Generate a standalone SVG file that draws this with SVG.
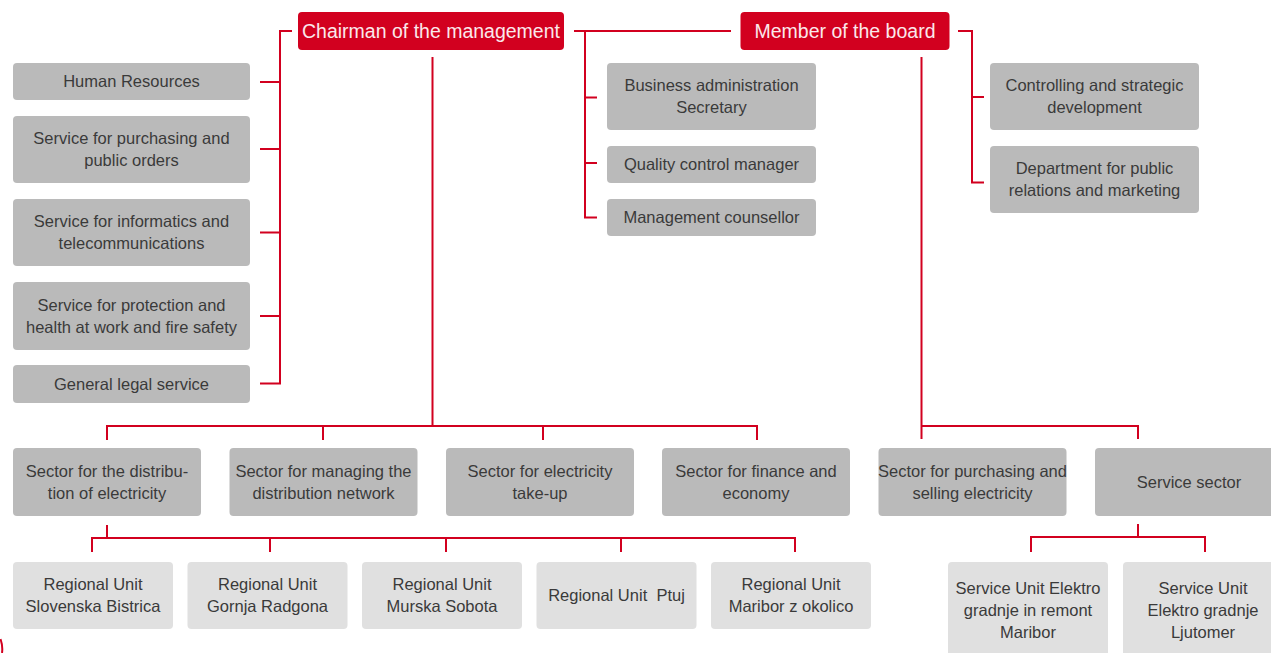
<svg xmlns="http://www.w3.org/2000/svg" width="1271" height="653" viewBox="0 0 1271 653">
<style>
.red{fill:#d2001f}
.box{fill:#bababa}
.lbox{fill:#e0e0e0}
.t{font-family:"Liberation Sans",Arial,sans-serif;font-size:16.5px;fill:#3a3a3a;text-anchor:middle}
.tw{font-family:"Liberation Sans",Arial,sans-serif;font-size:19.5px;fill:#fbe8eb;text-anchor:middle}
.c{stroke:#d2001f;stroke-width:2;fill:none}
</style>
<rect width="1271" height="653" fill="#ffffff"/>
<g id="connectors">
<path class="c" d="M292,31 H280 V383.5 H260 M260,82 H280 M260,149 H280 M260,232.5 H280 M260,316 H280"/>
<path class="c" d="M574,31 H731 M585,31 V217.5 H597 M585,97.5 H597 M585,163 H597"/>
<path class="c" d="M958,31 H972 V182.5 H984 M972,97 H984"/>
<path class="c" d="M432.5,57 V426 M107,440 V426 H757 V440 M323,426 V440 M543,426 V440"/>
<path class="c" d="M921.5,57 V439 M921.5,426 H1138 V439"/>
<path class="c" d="M107,525 V538 M92,552 V538 H795 V552 M270,538 V552 M446,538 V552 M621,538 V552"/>
<path class="c" d="M1138,524 V537 M1031,552 V537 H1205 V552"/>
<path class="c" d="M0.5,639 Q3,646 2,653"/>
</g>
<g id="chairman"><rect class="red" x="298" y="12" width="266" height="38" rx="4"/><text class="tw" x="431" y="38">Chairman of the management</text></g>
<g id="member"><rect class="red" x="740.5" y="12" width="209" height="38" rx="4"/><text class="tw" x="845" y="38">Member of the board</text></g>
<g id="hr"><rect class="box" x="13" y="63" width="237" height="37" rx="4"/><text class="t" x="131.5" y="87">Human Resources</text></g>
<g id="purchasing"><rect class="box" x="13" y="116" width="237" height="67" rx="4"/><text class="t" x="131.5" y="144">Service for purchasing and</text><text class="t" x="131.5" y="166">public orders</text></g>
<g id="informatics"><rect class="box" x="13" y="199" width="237" height="67" rx="4"/><text class="t" x="131.5" y="227">Service for informatics and</text><text class="t" x="131.5" y="249">telecommunications</text></g>
<g id="protection"><rect class="box" x="13" y="282" width="237" height="68" rx="4"/><text class="t" x="131.5" y="310.5">Service for protection and</text><text class="t" x="131.5" y="332.5">health at work and fire safety</text></g>
<g id="legal"><rect class="box" x="13" y="365" width="237" height="38" rx="4"/><text class="t" x="131.5" y="389.5">General legal service</text></g>
<g id="business"><rect class="box" x="607" y="63" width="209" height="67" rx="4"/><text class="t" x="711.5" y="91">Business administration</text><text class="t" x="711.5" y="113">Secretary</text></g>
<g id="quality"><rect class="box" x="607" y="146" width="209" height="37" rx="4"/><text class="t" x="711.5" y="170">Quality control manager</text></g>
<g id="counsellor"><rect class="box" x="607" y="199" width="209" height="37" rx="4"/><text class="t" x="711.5" y="223">Management counsellor</text></g>
<g id="controlling"><rect class="box" x="990" y="63" width="209" height="67" rx="4"/><text class="t" x="1094.5" y="91">Controlling and strategic</text><text class="t" x="1094.5" y="113">development</text></g>
<g id="pr"><rect class="box" x="990" y="146" width="209" height="67" rx="4"/><text class="t" x="1094.5" y="174">Department for public</text><text class="t" x="1094.5" y="196">relations and marketing</text></g>
<g id="sector-distribution"><rect class="box" x="13" y="448" width="188" height="68" rx="4"/><text class="t" x="107" y="476.5">Sector for the distribu-</text><text class="t" x="107" y="498.5">tion of electricity</text></g>
<g id="sector-network"><rect class="box" x="229.5" y="448" width="188" height="68" rx="4"/><text class="t" x="323.5" y="476.5">Sector for managing the</text><text class="t" x="323.5" y="498.5">distribution network</text></g>
<g id="sector-takeup"><rect class="box" x="446" y="448" width="188" height="68" rx="4"/><text class="t" x="540" y="476.5">Sector for electricity</text><text class="t" x="540" y="498.5">take-up</text></g>
<g id="sector-finance"><rect class="box" x="662" y="448" width="188" height="68" rx="4"/><text class="t" x="756" y="476.5">Sector for finance and</text><text class="t" x="756" y="498.5">economy</text></g>
<g id="sector-selling"><rect class="box" x="878.5" y="448" width="188" height="68" rx="4"/><text class="t" x="972.5" y="476.5">Sector for purchasing and</text><text class="t" x="972.5" y="498.5">selling electricity</text></g>
<g id="sector-service"><rect class="box" x="1095" y="448" width="188" height="68" rx="4"/><text class="t" x="1189" y="487.5">Service sector</text></g>
<g id="ru-bistrica"><rect class="lbox" x="13" y="562" width="160" height="67" rx="4"/><text class="t" x="93" y="590">Regional Unit</text><text class="t" x="93" y="612">Slovenska Bistrica</text></g>
<g id="ru-radgona"><rect class="lbox" x="187.5" y="562" width="160" height="67" rx="4"/><text class="t" x="267.5" y="590">Regional Unit</text><text class="t" x="267.5" y="612">Gornja Radgona</text></g>
<g id="ru-sobota"><rect class="lbox" x="362" y="562" width="160" height="67" rx="4"/><text class="t" x="442" y="590">Regional Unit</text><text class="t" x="442" y="612">Murska Sobota</text></g>
<g id="ru-ptuj"><rect class="lbox" x="536.5" y="562" width="160" height="67" rx="4"/><text class="t" x="616.5" y="601" xml:space="preserve" style="white-space:pre">Regional Unit  Ptuj</text></g>
<g id="ru-maribor"><rect class="lbox" x="711" y="562" width="160" height="67" rx="4"/><text class="t" x="791" y="590">Regional Unit</text><text class="t" x="791" y="612">Maribor z okolico</text></g>
<g id="su-maribor"><rect class="lbox" x="948" y="562" width="160" height="100" rx="4"/><text class="t" x="1028" y="593.5">Service Unit Elektro</text><text class="t" x="1028" y="615.5">gradnje in remont</text><text class="t" x="1028" y="637.5">Maribor</text></g>
<g id="su-ljutomer"><rect class="lbox" x="1123" y="562" width="160" height="100" rx="4"/><text class="t" x="1203" y="593.5">Service Unit</text><text class="t" x="1203" y="615.5">Elektro gradnje</text><text class="t" x="1203" y="637.5">Ljutomer</text></g>
</svg>
